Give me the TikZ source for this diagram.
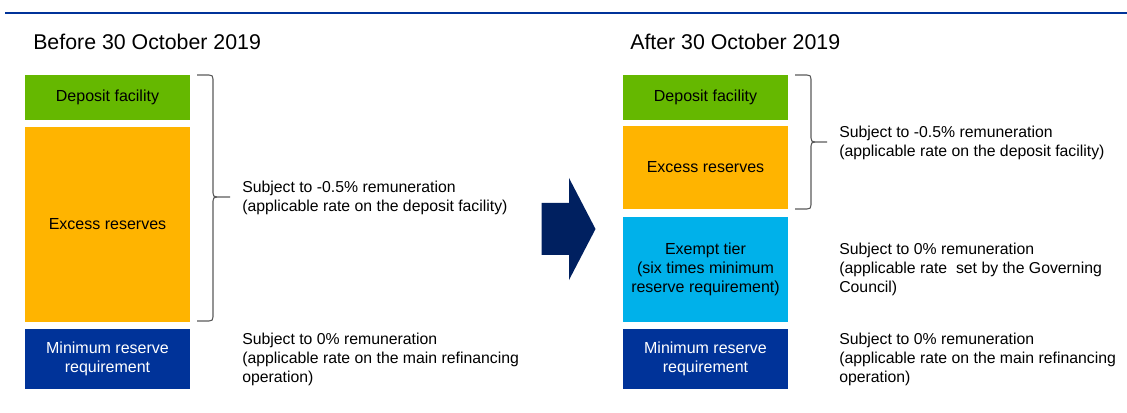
\documentclass[tikz,border=0pt]{standalone}
\usepackage{fontspec}
\setmainfont{Liberation Sans}
\definecolor{ecbgreen}{HTML}{65B800}
\definecolor{ecborange}{HTML}{FFB400}
\definecolor{ecblight}{HTML}{00B1EA}
\definecolor{ecbblue}{HTML}{003399}
\definecolor{ecbnavy}{HTML}{002060}
\definecolor{bracegray}{HTML}{5A5A5A}
\begin{document}
\begin{tikzpicture}[x=0.75pt,y=-0.75pt,
  box/.style={rectangle, inner sep=0pt, align=center, minimum width=123.75pt, font=\fontsize{12}{14.25}\selectfont},
  note/.style={anchor=west, inner sep=0pt, align=left, font=\fontsize{11.85}{14.25}\selectfont},
  title/.style={anchor=base west, inner sep=0pt, font=\fontsize{16}{19}\selectfont},
  bracestyle/.style={draw=bracegray, line width=0.8pt}]
\useasboundingbox (0,0) rectangle (1127,413);
% top rule
\draw[ecbblue, line width=1.6pt] (5,13) -- (1127,13);
% titles
\node[title] (t1) at (33,50) {Before 30 October 2019};
\node[title] (t2) at (630,50) {After 30 October 2019};
% left boxes
\node[box, fill=ecbgreen, minimum height=33.75pt] (ldf) at (107.5,97.5) {Deposit facility};
\node[box, fill=ecborange, minimum height=145.9pt] (lex) at (107.5,224.25) {Excess reserves};
\node[box, fill=ecbblue, text=white, minimum height=44.8pt] (lmr) at (107.5,358.85) {Minimum reserve\\requirement};
% right boxes
\node[box, fill=ecbgreen, minimum height=33.75pt] (rdf) at (705.5,97.5) {Deposit facility};
\node[box, fill=ecborange, minimum height=62.25pt] (rex) at (705.5,167.5) {Excess reserves};
\node[box, fill=ecblight, minimum height=78.5pt] (ret) at (705.5,269.35) {Exempt tier\\(six times minimum\\reserve requirement)};
\node[box, fill=ecbblue, text=white, minimum height=45pt] (rmr) at (705.5,359) {Minimum reserve\\requirement};
% arrow
\fill[ecbnavy] (541.5,203) -- (569,203) -- (569,178) -- (595.5,229) -- (569,280) -- (569,255) -- (541.5,255) -- cycle;
% left brace
\coordinate (lbt) at (197,75);
\coordinate (lbb) at (197,321);
\coordinate (lbtip) at (230,197);
\draw[bracestyle] (lbt) -- (209,75) .. controls (212,75) and (213,76) .. (213,79)
  -- (213,193) .. controls (213,196) and (214,197) .. (217,197) -- (lbtip);
\draw[bracestyle] (lbb) -- (209,321) .. controls (212,321) and (213,320) .. (213,317)
  -- (213,201) .. controls (213,198) and (214,197) .. (217,197);
% right brace
\coordinate (rbt) at (795,75);
\coordinate (rbb) at (795,209);
\coordinate (rbtip) at (827,142);
\draw[bracestyle] (rbt) -- (807,75) .. controls (810,75) and (811,76) .. (811,79)
  -- (811,138) .. controls (811,141) and (812,142) .. (815,142) -- (rbtip);
\draw[bracestyle] (rbb) -- (807,209) .. controls (810,209) and (811,208) .. (811,205)
  -- (811,146) .. controls (811,143) and (812,142) .. (815,142);
% notes
\node[note] (n1) at (242,198) {Subject to -0.5\% remuneration\\(applicable rate on the deposit facility)};
\node[note] (n2) at (242,359) {Subject to 0\% remuneration\\(applicable rate on the main refinancing\\operation)};
\node[note] (n3) at (839,143) {Subject to -0.5\% remuneration\\(applicable rate on the deposit facility)};
\node[note] (n4) at (839,269) {Subject to 0\% remuneration\\(applicable rate\ \ set by the Governing\\Council)};
\node[note] (n5) at (839,359) {Subject to 0\% remuneration\\(applicable rate on the main refinancing\\operation)};
\end{tikzpicture}
\end{document}
